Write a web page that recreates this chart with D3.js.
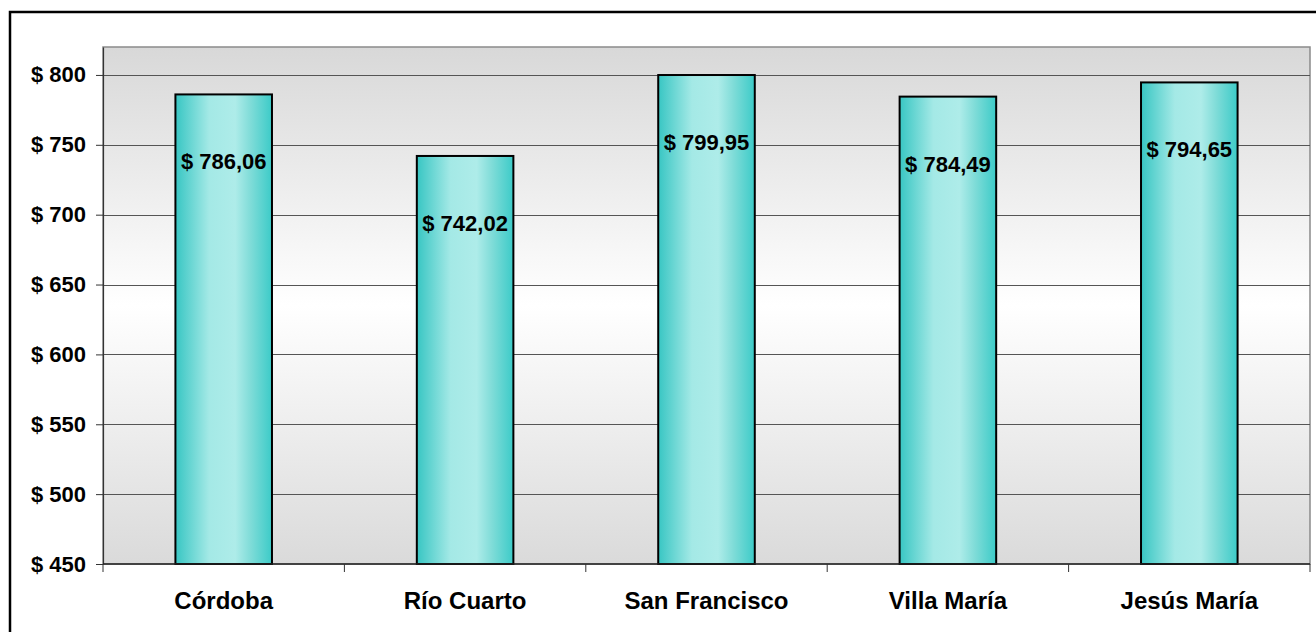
<!DOCTYPE html>
<html>
<head>
<meta charset="utf-8">
<script src="https://cdn.jsdelivr.net/npm/d3@7"></script>
<style>
  body { margin: 0; background: #fff; }
  text { font-family: "Liberation Sans", Arial, sans-serif; font-weight: bold; fill: #000; }
</style>
</head>
<body>
<svg></svg>
<script>
var categories = ["Córdoba", "Río Cuarto", "San Francisco", "Villa María", "Jesús María"];
var values = [786.06, 742.02, 799.95, 784.49, 794.65];
var yTicks = [450, 500, 550, 600, 650, 700, 750, 800];

var width = 1316;
var height = 632;
var plot = { left: 103, right: 1310, top: 47, bottom: 564 };

var svg = d3.select("svg")
            .attr("width", width)
            .attr("height", height);

// money format like "$ 786,06"
var locale = d3.formatLocale({ decimal: ",", thousands: ".", grouping: [3], currency: ["$ ", ""] });
var fmtValue = locale.format("$.2f");
var fmtTick = locale.format("$.0f");

var defs = svg.append("defs");

var bg = defs.append("linearGradient").attr("id", "bg")
  .attr("x1", 0).attr("y1", 0).attr("x2", 0).attr("y2", 1);
bg.append("stop").attr("offset", "0%").attr("stop-color", "#d8d8d8");
bg.append("stop").attr("offset", "50%").attr("stop-color", "#ffffff");
bg.append("stop").attr("offset", "100%").attr("stop-color", "#dadada");

var barFill = defs.append("linearGradient").attr("id", "barFill")
  .attr("x1", 0).attr("y1", 0).attr("x2", 1).attr("y2", 0);
barFill.append("stop").attr("offset", "0%").attr("stop-color", "#38c6c3");
barFill.append("stop").attr("offset", "35%").attr("stop-color", "#a4e9e6");
barFill.append("stop").attr("offset", "62%").attr("stop-color", "#aeece9");
barFill.append("stop").attr("offset", "78%").attr("stop-color", "#7fdcd8");
barFill.append("stop").attr("offset", "100%").attr("stop-color", "#3ccbc8");

// outer frame (cut off at right and bottom)
svg.append("rect")
  .attr("x", 10).attr("y", 12)
  .attr("width", 1400).attr("height", 700)
  .attr("fill", "none")
  .attr("stroke", "#000")
  .attr("stroke-width", 2.5);

var xScale = d3.scaleBand()
               .domain(categories)
               .range([plot.left, plot.right])
               .paddingInner(0.6)
               .paddingOuter(0.3);

var yScale = d3.scaleLinear()
               .domain([450, 820])
               .range([plot.bottom, plot.top]);

// plot area background
svg.append("rect")
  .attr("x", plot.left).attr("y", plot.top)
  .attr("width", plot.right - plot.left)
  .attr("height", plot.bottom - plot.top)
  .attr("fill", "url(#bg)")
  .attr("stroke", "#8a8a8a")
  .attr("stroke-width", 1.5);

// gridlines
svg.selectAll(".grid")
  .data(yTicks.slice(1))
  .enter()
  .append("line")
  .attr("x1", plot.left).attr("x2", plot.right)
  .attr("y1", function(d) { return Math.round(yScale(d)) + 0.5; })
  .attr("y2", function(d) { return Math.round(yScale(d)) + 0.5; })
  .attr("stroke", "#555")
  .attr("stroke-width", 1);

// y axis
var yAxis = d3.axisLeft(yScale)
              .tickValues(yTicks)
              .tickSizeInner(7)
              .tickSizeOuter(0)
              .tickPadding(10)
              .tickFormat(function(d) { return fmtTick(d); });

var gy = svg.append("g")
  .attr("transform", "translate(" + plot.left + ",0)")
  .call(yAxis);
gy.select(".domain").attr("stroke", "#333").attr("stroke-width", 1.2);
gy.selectAll(".tick line").attr("stroke", "#333");
gy.selectAll(".tick text")
  .attr("font-size", 22)
  .attr("font-family", "Liberation Sans, Arial, sans-serif")
  .attr("font-weight", "bold")
  .attr("fill", "#000");

// bars
svg.selectAll(".bar")
  .data(values)
  .enter()
  .append("rect")
  .attr("x", function(d, i) { return xScale(categories[i]); })
  .attr("y", function(d) { return yScale(d); })
  .attr("width", xScale.bandwidth())
  .attr("height", function(d) { return yScale(450) - yScale(d); })
  .attr("fill", "url(#barFill)")
  .attr("stroke", "#000")
  .attr("stroke-width", 2);

// value labels, sitting a little below the top of each bar
svg.selectAll(".label")
  .data(values)
  .enter()
  .append("text")
  .attr("x", function(d, i) { return xScale(categories[i]) + xScale.bandwidth() / 2; })
  .attr("y", function(d) { return yScale(d) + 67; })
  .attr("dy", "0.36em")
  .attr("text-anchor", "middle")
  .attr("font-size", 22)
  .text(function(d) { return fmtValue(d); });

// x axis line + ticks at category boundaries
var step = xScale.step();
svg.append("line")
  .attr("x1", plot.left).attr("x2", plot.right)
  .attr("y1", plot.bottom).attr("y2", plot.bottom)
  .attr("stroke", "#222").attr("stroke-width", 1.5);

svg.selectAll(".xtick")
  .data(d3.range(categories.length + 1))
  .enter()
  .append("line")
  .attr("x1", function(i) { return plot.left + i * step; })
  .attr("x2", function(i) { return plot.left + i * step; })
  .attr("y1", plot.bottom).attr("y2", plot.bottom + 8)
  .attr("stroke", "#333");

svg.selectAll(".cat")
  .data(categories)
  .enter()
  .append("text")
  .attr("x", function(d) { return xScale(d) + xScale.bandwidth() / 2; })
  .attr("y", 609)
  .attr("text-anchor", "middle")
  .attr("font-size", 24)
  .text(function(d) { return d; });
</script>
</body>
</html>
